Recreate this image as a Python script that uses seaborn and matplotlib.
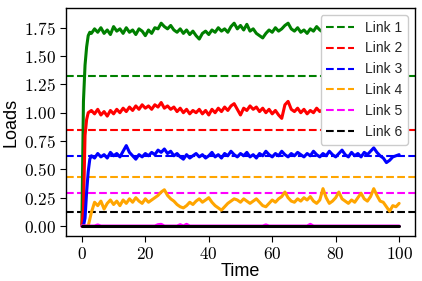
import matplotlib
matplotlib.use("Agg")
import matplotlib.pyplot as plt
import pandas as pd
import seaborn as sns
from matplotlib.ticker import StrMethodFormatter

# Eixo do tempo (amostras)
time = [0, 0.5, 1, 1.5, 2, 2.5] + list(range(3, 101))

# Cargas medidas em cada link
load_link1 = [
    0, 1.10, 1.42, 1.58, 1.68, 1.71,
    1.70, 1.74, 1.71, 1.75, 1.70, 1.73, 1.69, 1.76, 1.72, 1.74,
    1.70, 1.75, 1.71, 1.73, 1.69, 1.74, 1.72, 1.68, 1.73, 1.70,
    1.75, 1.74, 1.79, 1.76, 1.74, 1.77, 1.73, 1.71, 1.74, 1.70,
    1.73, 1.69, 1.72, 1.68, 1.65, 1.70, 1.72, 1.69, 1.73, 1.71,
    1.75, 1.72, 1.74, 1.71, 1.76, 1.79, 1.74, 1.77, 1.73, 1.78,
    1.72, 1.74, 1.70, 1.68, 1.66, 1.70, 1.73, 1.71, 1.75, 1.72,
    1.74, 1.77, 1.79, 1.74, 1.72, 1.75, 1.71, 1.73, 1.70, 1.74,
    1.72, 1.76, 1.73, 1.71, 1.74, 1.72, 1.75, 1.71, 1.73, 1.70,
    1.74, 1.72, 1.75, 1.71, 1.73, 1.76, 1.72, 1.74, 1.70, 1.73,
    1.71, 1.75, 1.72, 1.74, 1.70, 1.73, 1.71, 1.74,
]
load_link2 = [
    0, 0.15, 0.80, 0.94, 1.00, 1.01,
    1.02, 0.99, 1.03, 0.98, 1.01, 0.97, 1.02, 0.99, 1.03, 1.00,
    1.04, 1.01, 1.05, 1.02, 1.06, 1.03, 1.07, 1.04, 1.06, 1.03,
    1.07, 1.05, 1.09, 1.04, 1.06, 1.03, 1.05, 1.01, 1.04, 1.00,
    1.03, 0.99, 1.02, 1.00, 1.03, 0.99, 1.02, 0.98, 1.03, 1.00,
    1.04, 1.01, 1.05, 1.02, 1.06, 1.08, 1.03, 0.98, 1.04, 1.02,
    1.06, 1.03, 1.05, 1.01, 1.04, 1.00, 1.03, 0.99, 1.02, 0.98,
    0.95, 1.07, 1.10, 1.03, 1.01, 1.04, 1.00, 1.03, 0.99, 1.02,
    1.00, 1.04, 1.01, 1.03, 0.99, 1.02, 1.00, 1.04, 1.01, 1.03,
    0.99, 1.02, 1.00, 1.03, 1.01, 1.04, 1.00, 1.03, 1.05, 1.01,
    1.02, 0.99, 1.03, 1.00, 1.02, 0.99, 1.01, 1.02,
]
load_link3 = [
    0, 0, 0.07, 0.30, 0.48, 0.59,
    0.62, 0.60, 0.64, 0.61, 0.63, 0.60, 0.65, 0.62, 0.64, 0.61,
    0.66, 0.71, 0.65, 0.62, 0.59, 0.63, 0.61, 0.64, 0.62, 0.65,
    0.63, 0.67, 0.65, 0.68, 0.64, 0.66, 0.62, 0.64, 0.61, 0.59,
    0.63, 0.60, 0.62, 0.64, 0.61, 0.63, 0.60, 0.62, 0.65, 0.61,
    0.63, 0.60, 0.64, 0.62, 0.66, 0.63, 0.61, 0.64, 0.62, 0.65,
    0.61, 0.63, 0.60, 0.64, 0.62, 0.66, 0.63, 0.61, 0.64, 0.62,
    0.66, 0.63, 0.61, 0.64, 0.62, 0.65, 0.63, 0.61, 0.64, 0.62,
    0.66, 0.63, 0.61, 0.64, 0.62, 0.66, 0.63, 0.61, 0.64, 0.67,
    0.63, 0.61, 0.65, 0.62, 0.64, 0.61, 0.65, 0.63, 0.66, 0.69,
    0.65, 0.62, 0.60, 0.56, 0.58, 0.61, 0.62, 0.63,
]
load_link4 = [
    0, 0, 0, 0, 0, 0.06,
    0.12, 0.21, 0.18, 0.22, 0.15, 0.20, 0.23, 0.19, 0.22, 0.18,
    0.23, 0.20, 0.24, 0.21, 0.25, 0.22, 0.20, 0.24, 0.21, 0.23,
    0.25, 0.27, 0.30, 0.32, 0.27, 0.24, 0.22, 0.19, 0.17, 0.16,
    0.18, 0.21, 0.19, 0.22, 0.24, 0.21, 0.23, 0.25, 0.21, 0.18,
    0.16, 0.14, 0.17, 0.20, 0.22, 0.24, 0.23, 0.21, 0.24, 0.22,
    0.20, 0.22, 0.24, 0.21, 0.18, 0.17, 0.20, 0.23, 0.21, 0.24,
    0.26, 0.30, 0.25, 0.22, 0.21, 0.24, 0.22, 0.25, 0.23, 0.26,
    0.22, 0.20, 0.23, 0.33, 0.25, 0.20, 0.22, 0.25, 0.30, 0.24,
    0.22, 0.20, 0.23, 0.21, 0.25, 0.29, 0.24, 0.22, 0.26, 0.33,
    0.27, 0.22, 0.21, 0.17, 0.13, 0.18, 0.17, 0.20,
]
load_link5 = [
    0, 0, 0, 0, 0, 0,
    0, 0, 0.01, 0, 0, 0, 0, 0, 0, 0,
    0, 0, 0, 0, 0, 0, 0, 0, 0, 0,
    0, 0.012, 0.015, 0, 0, 0, 0, 0, 0.012, 0,
    0.015, 0, 0, 0, 0, 0, 0, 0, 0, 0,
    0, 0, 0, 0, 0, 0, 0, 0, 0, 0,
    0, 0, 0, 0, 0, 0.01, 0, 0, 0, 0,
    0, 0, 0, 0, 0, 0, 0, 0, 0, 0.015,
    0, 0, 0, 0, 0, 0, 0, 0, 0, 0,
    0, 0, 0, 0, 0, 0, 0, 0, 0, 0,
    0, 0, 0, 0, 0, 0, 0, 0,
]
load_link6 = [
    0, 0, 0, 0, 0, 0,
    0, 0, 0, 0, 0, 0, 0, 0, 0, 0,
    0, 0, 0, 0, 0, 0, 0, 0, 0, 0,
    0, 0, 0, 0, 0, 0, 0, 0, 0, 0,
    0, 0, 0, 0, 0, 0, 0, 0, 0, 0,
    0, 0, 0, 0, 0, 0, 0, 0, 0, 0,
    0, 0, 0, 0, 0, 0, 0, 0, 0, 0,
    0, 0, 0, 0, 0, 0, 0, 0, 0, 0,
    0, 0, 0, 0, 0, 0, 0, 0, 0, 0,
    0, 0, 0, 0, 0, 0, 0, 0, 0, 0,
    0, 0, 0, 0, 0, 0, 0, 0,
]

# Capacidades (linhas tracejadas)
link_labels = ["Link 1", "Link 2", "Link 3", "Link 4", "Link 5", "Link 6"]
link_capacity = [1.325, 0.848, 0.62, 0.435, 0.29, 0.122]
link_colors = ["green", "red", "blue", "orange", "magenta", "black"]

sns.set_style("ticks")
plt.rcParams["font.family"] = ["Liberation Sans", "DejaVu Sans"]
plt.rcParams["mathtext.fontset"] = "cm"

series = [load_link1, load_link2, load_link3, load_link4, load_link5, load_link6]
df = pd.DataFrame({"time": time})
for label, values in zip(link_labels, series):
    df[label] = values

fig = plt.figure(figsize=(4.22, 2.81), dpi=100)
ax = fig.add_axes([0.1564, 0.1601, 0.827, 0.8114])

for label, cap, color in zip(link_labels, link_capacity, link_colors):
    ax.axhline(cap, color=color, linestyle="--", linewidth=1.5, label=label)

for label, color in zip(link_labels, link_colors):
    sns.lineplot(data=df, x="time", y=label, color=color, linewidth=2.2,
                 legend=False, ax=ax)

ax.set_xlim(-5, 105)
ax.set_ylim(-0.088, 1.924)
ax.set_xticks([0, 20, 40, 60, 80, 100])
ax.set_yticks([0, 0.25, 0.5, 0.75, 1.0, 1.25, 1.5, 1.75])
ax.xaxis.set_major_formatter(StrMethodFormatter("${x:.0f}$"))
ax.yaxis.set_major_formatter(StrMethodFormatter("${x:.2f}$"))
ax.tick_params(labelsize=12.5, colors="black", length=4)
for spine in ax.spines.values():
    spine.set_color("black")
    spine.set_linewidth(1.0)

ax.set_xlabel("Time", fontsize=13, color="black", labelpad=0.5)
ax.set_ylabel("Loads", fontsize=13, color="black", labelpad=3)
ax.legend(loc="upper right", fontsize=10, framealpha=1)

fig.savefig("out.png", dpi=100)
plt.close(fig)
